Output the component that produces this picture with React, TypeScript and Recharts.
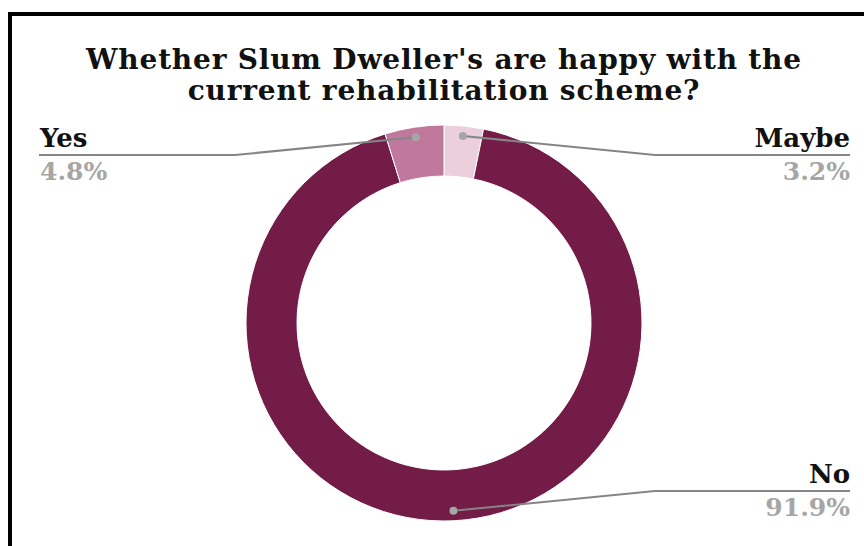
import { PieChart, Pie, Cell } from 'recharts';

const categories = ['Maybe', 'No', 'Yes'];
const shares = [3.2, 91.9, 4.8];
const colors = ['#EBCFDB', '#721C47', '#C0789D'];

const data = categories.map((name, i) => ({ name, value: shares[i] }));

const FONT = '"DejaVu Serif", Georgia, serif';
const RAD = Math.PI / 180;

function renderLabel(props: any) {
  const { cx, cy, midAngle, outerRadius, name, value } = props;
  const r = outerRadius - 10;
  const dx = cx + r * Math.cos(-midAngle * RAD);
  const dy = cy + r * Math.sin(-midAngle * RAD);
  const left = dx < cx - 12;
  const lineY = dy < cy ? cy - 168 : cy + 168;
  const elbowX = left ? cx - 209 : cx + 211;
  const endX = left ? 39 : 850;
  return (
    <g>
      <polyline
        points={`${dx},${dy} ${elbowX},${lineY} ${endX},${lineY}`}
        fill="none"
        stroke="#858585"
        strokeWidth={2}
      />
      <circle cx={dx} cy={dy} r={4} fill="#A6A6A6" />
      <text
        x={left ? 40 : 850}
        y={lineY - 8}
        textAnchor={left ? 'start' : 'end'}
        fontFamily={FONT}
        fontWeight="bold"
        fontSize={26}
        fill="#111"
      >
        {name}
      </text>
      <text
        x={left ? 40 : 850}
        y={lineY + 25}
        textAnchor={left ? 'start' : 'end'}
        fontFamily={FONT}
        fontWeight="bold"
        fontSize={25}
        fill="#A6A6A6"
      >
        {value.toFixed(1)}%
      </text>
    </g>
  );
}

export default function App() {
  return (
    <div style={{ position: 'fixed', left: 0, top: 0, width: 864, height: 546, background: '#fff' }}>
      <div
        style={{
          position: 'absolute',
          left: 8,
          top: 12,
          width: 880,
          height: 560,
          border: '4px solid #000',
          boxSizing: 'border-box',
        }}
      />
      <div
        style={{
          position: 'absolute',
          left: 0,
          top: 44,
          width: 888,
          textAlign: 'center',
          fontFamily: FONT,
          fontWeight: 'bold',
          fontSize: 28,
          letterSpacing: 0.8,
          lineHeight: '31px',
          color: '#111',
        }}
      >
        Whether Slum Dweller's are happy with the
        <br />
        current rehabilitation scheme?
      </div>
      <div style={{ position: 'absolute', left: 0, top: 0 }}>
        <PieChart width={864} height={546} margin={{ top: 0, right: 0, bottom: 0, left: 0 }}>
          <Pie
            data={data}
            dataKey="value"
            nameKey="name"
            cx={444}
            cy={323}
            innerRadius={147}
            outerRadius={198}
            startAngle={90}
            endAngle={-270}
            stroke="#fff"
            strokeWidth={1}
            label={renderLabel}
            labelLine={false}
            isAnimationActive={false}
          >
            {data.map((d, i) => (
              <Cell key={d.name} fill={colors[i]} />
            ))}
          </Pie>
        </PieChart>
      </div>
    </div>
  );
}
